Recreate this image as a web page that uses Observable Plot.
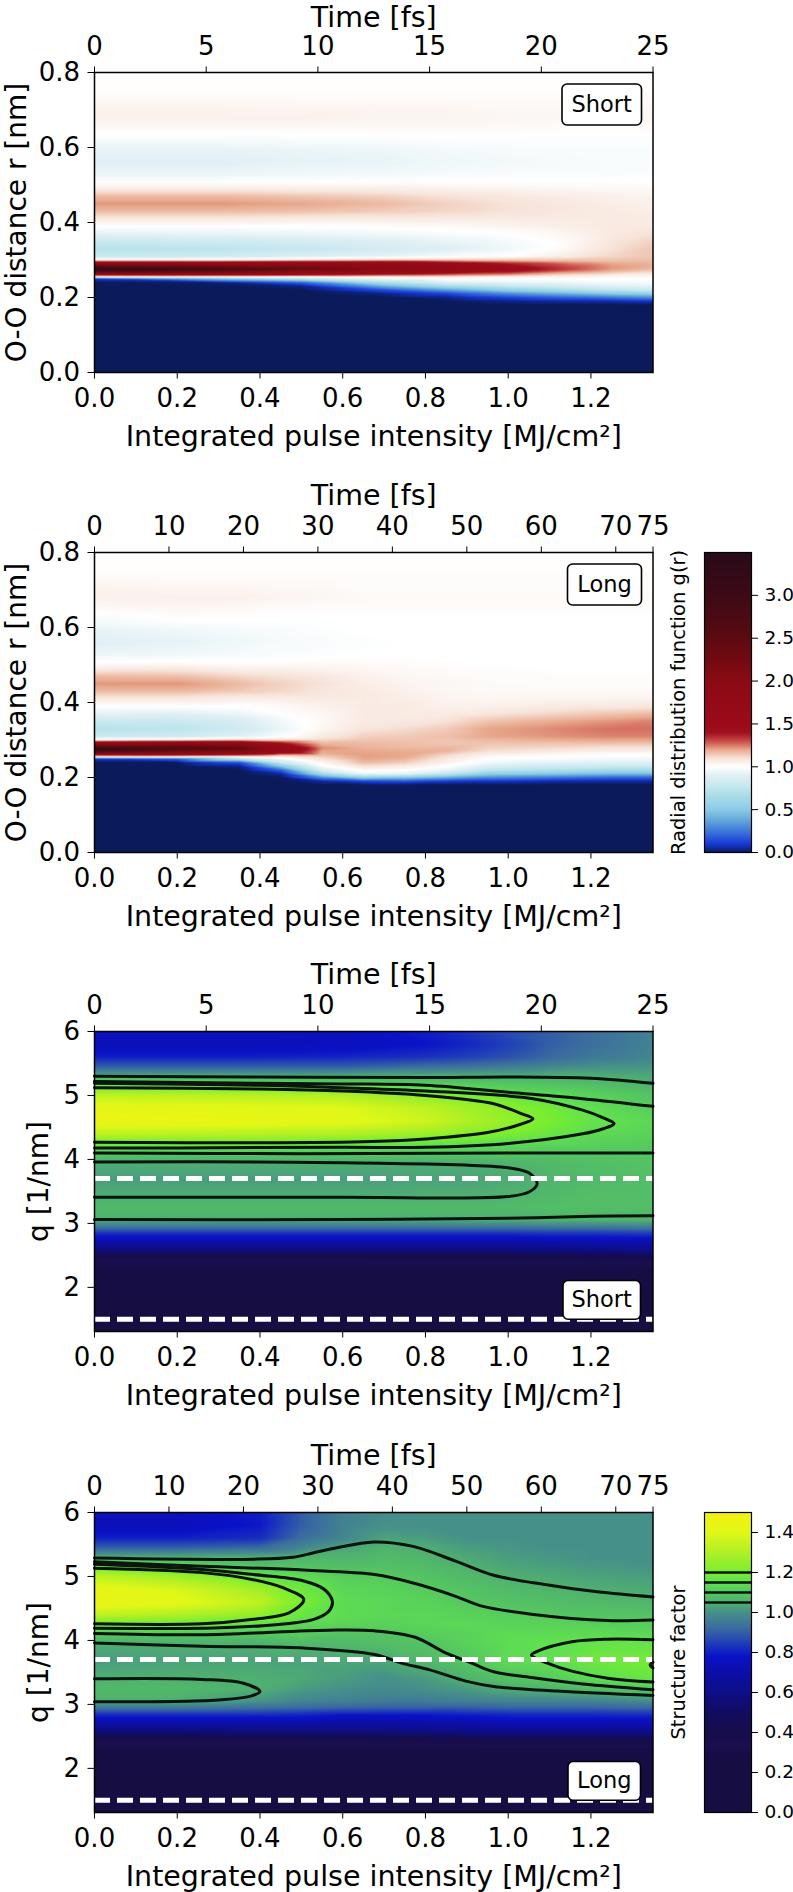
<!DOCTYPE html>
<html><head><meta charset="utf-8">
<style>html,body{margin:0;padding:0;background:#fff}#page{position:relative;width:793px;height:1892px;overflow:hidden}#page svg{position:absolute;overflow:hidden;background:transparent}</style>
<script src="https://cdn.jsdelivr.net/npm/d3@7"></script>
<script src="https://cdn.jsdelivr.net/npm/@observablehq/plot@0.6"></script>
</head><body><div id="page"></div>
<script>
// colour scales
const gStops=[0,.1,.25,.4,.5,.7,.75,.9,1,1.1,1.2,1.3,1.4,1.5,2,2.5,3,3.5];
const gColors=["#0a1a5a","#1838d8","#3d7ad8","#6aaedb","#8ccae8","#b0e0e8","#bfe6ee","#e0f0f5","#ffffff","#f7e3d8","#e8a88c","#c84a45","#a0101e","#9c0a18","#8a0a14","#5c0a10","#3c0a16","#2a0a1a"];
const sStops=[0,.28,.34,.4,.5,.6,.7,.78,.85,.92,1,1.05,1.1,1.15,1.2,1.3,1.4,1.5];
const sColors=["#160d40","#160d44","#1c0e50","#160d4a","#120c60","#0e0e88","#0c0ea8","#0a12c8","#2040b8","#3a6aa0","#46908a","#4fb070","#55c860","#60e050","#78ee30","#b0f025","#e0f818","#f5f010"];
// axes
const xTicks=[0,.2,.4,.6,.8,1,1.2];
const timeShort=[0,5,10,15,20,25];
const timeLong=[0,10,20,30,40,50,60,70,75];
const rTicks=[0,.2,.4,.6,.8];
const qTicks=[2,3,4,5,6];
const gTicks=[0,.5,1,1.5,2,2.5,3];
const sTicks=[0,.2,.4,.6,.8,1,1.2,1.4];
const sContourLevels=[1.05,1.1,1.15,1.2];
const dashedQ=[3.7,1.5];
// g(r) table: rows
const rRows=[0,.16,.18,.19,.2,.21,.22,.23,.24,.25,.255,.26,.27,.275,.28,.29,.295,.3,.31,.33,.35,.37,.39,.41,.43,.45,.47,.49,.51,.53,.56,.59,.62,.65,.68,.71,.74,.8];
const gShortX=[0,.3,.5,.7,.85,1,1.15,1.25,1.35];
const gShort=[
[0,0,0,0,0,0,0,0,0,.1,.95,1.45,2.7,3.3,2.8,1.9,1.4,1.05,.8,.72,.8,.92,1,1.08,1.17,1.22,1.17,1.07,.99,.94,.9,.92,.97,1.02,1.05,1.04,1.01,1],
[0,0,0,0,0,0,0,0,.02,.5,1,1.45,2.4,2.9,2.5,1.8,1.4,1.05,.82,.74,.82,.93,1,1.08,1.17,1.22,1.17,1.07,.99,.94,.9,.92,.97,1.02,1.05,1.04,1.01,1],
[0,0,0,0,0,0,0,.03,.2,.75,1,1.4,2,2.4,2.3,1.8,1.45,1.1,.88,.78,.85,.94,1,1.07,1.16,1.2,1.15,1.06,.99,.95,.92,.93,.98,1.02,1.05,1.03,1.01,1],
[0,0,0,0,0,.03,.15,.4,.7,.95,1.05,1.3,1.75,2,2,1.75,1.45,1.15,.92,.84,.89,.96,1.01,1.07,1.14,1.17,1.13,1.06,1,.96,.93,.94,.98,1.02,1.04,1.03,1.01,1],
[0,0,0,0,.03,.12,.35,.65,.9,1,1.08,1.25,1.6,1.8,1.8,1.55,1.35,1.15,.97,.89,.93,.98,1.02,1.07,1.12,1.13,1.1,1.05,1,.97,.95,.96,.99,1.02,1.04,1.03,1.01,1],
[0,0,0,.03,.12,.3,.55,.78,.93,1,1.05,1.2,1.42,1.47,1.47,1.38,1.26,1.15,1,.95,.97,1,1.04,1.07,1.1,1.1,1.08,1.04,1,.98,.96,.97,.99,1.02,1.03,1.02,1.01,1],
[0,0,0,.05,.2,.42,.68,.85,.95,1,1.05,1.1,1.25,1.31,1.31,1.26,1.2,1.15,1.07,1.03,1.02,1.04,1.06,1.07,1.08,1.08,1.06,1.03,1,.98,.97,.98,.99,1.01,1.03,1.02,1.01,1],
[0,0,0,.06,.25,.5,.75,.9,.97,1,1.03,1.07,1.18,1.21,1.22,1.2,1.17,1.15,1.12,1.1,1.09,1.08,1.08,1.07,1.07,1.06,1.05,1.02,1,.98,.98,.98,.99,1.01,1.03,1.02,1.01,1],
[0,0,0,.08,.3,.55,.8,.92,.97,1,1.02,1.05,1.13,1.16,1.18,1.18,1.17,1.16,1.15,1.15,1.13,1.1,1.08,1.07,1.06,1.05,1.04,1.02,1,.99,.98,.98,.99,1.01,1.03,1.02,1.01,1]
];
const gLongX=[0,.2,.35,.45,.55,.65,.75,.85,.95,1.1,1.25,1.35];
const gLong=[
[0,0,0,0,0,0,0,0,0,.1,.95,1.45,2.7,3.3,2.8,1.9,1.4,1.05,.8,.72,.8,.92,1,1.08,1.17,1.22,1.17,1.07,.99,.94,.9,.92,.97,1.02,1.05,1.04,1.01,1],
[0,0,0,0,0,0,0,0,0,.2,1,1.45,2.3,2.6,2.6,1.95,1.5,1.08,.82,.74,.8,.9,1,1.08,1.17,1.22,1.16,1.08,1,.95,.92,.95,1,1.03,1.05,1.03,1.01,1],
[0,0,0,0,0,0,0,.03,.15,.75,1,1.35,2.1,2.4,2.4,1.85,1.5,1.15,.9,.82,.86,.94,1,1.06,1.14,1.17,1.12,1.05,1,.97,.95,.97,1,1.02,1.05,1.03,1.01,1],
[0,0,0,0,0,.05,.2,.5,.8,.97,1.05,1.2,1.6,1.7,1.7,1.45,1.3,1.12,.98,.93,.96,1,1.02,1.06,1.12,1.13,1.1,1.05,1,.98,.97,.98,1,1.01,1.04,1.02,1.01,1],
[0,0,0,.05,.3,.65,.88,.98,1.03,1.1,1.13,1.17,1.2,1.22,1.23,1.18,1.15,1.12,1.07,1.03,1.02,1.03,1.05,1.07,1.09,1.1,1.08,1.04,1.01,.99,.98,.99,1,1.01,1.03,1.02,1.01,1],
[0,0,0,.12,.55,.95,1.02,1.1,1.17,1.2,1.21,1.21,1.2,1.19,1.18,1.17,1.16,1.15,1.13,1.09,1.07,1.07,1.07,1.07,1.07,1.06,1.05,1.03,1.01,1,.99,1,1,1.01,1.02,1.01,1.01,1],
[0,0,0,.15,.5,.92,1,1.07,1.14,1.18,1.2,1.2,1.19,1.18,1.17,1.16,1.16,1.15,1.14,1.11,1.08,1.07,1.07,1.06,1.05,1.04,1.03,1.02,1.01,1,1,1,1,1.01,1.02,1.01,1.01,1],
[0,0,0,.1,.4,.78,.93,1,1.05,1.08,1.1,1.12,1.18,1.18,1.17,1.15,1.15,1.15,1.16,1.14,1.1,1.07,1.05,1.04,1.03,1.03,1.02,1.01,1,1,1,1,1,1.01,1.02,1.01,1.01,1],
[0,0,0,.08,.3,.55,.75,.88,.96,1,1.02,1.05,1.1,1.12,1.13,1.15,1.16,1.17,1.2,1.2,1.15,1.09,1.05,1.03,1.02,1.02,1.01,1.01,1,1,1,1,1,1.01,1.02,1.01,1.01,1],
[0,0,0,.06,.25,.5,.7,.82,.92,.98,1,1.02,1.08,1.1,1.12,1.15,1.17,1.19,1.22,1.23,1.19,1.12,1.07,1.04,1.02,1.01,1.01,1,1,1,1,1,1,1.01,1.02,1.01,1.01,1],
[0,0,0,.05,.2,.45,.65,.8,.9,.96,.98,1,1.05,1.08,1.1,1.15,1.18,1.2,1.24,1.26,1.22,1.15,1.08,1.04,1.02,1.01,1.01,1,1,1,1,1,1,1.01,1.02,1.01,1.01,1],
[0,0,0,.05,.2,.45,.65,.8,.9,.96,.98,1,1.05,1.08,1.1,1.15,1.18,1.2,1.24,1.26,1.24,1.17,1.09,1.04,1.02,1.01,1.01,1,1,1,1,1,1,1.01,1.02,1.01,1.01,1]
];
// S(q) table
const qRows=[6,5.8,5.6,5.45,5.3,5.2,5.1,5,4.8,4.6,4.4,4.28,4.18,4.1,3.96,3.7,3.41,3.25,3.06,2.95,2.85,2.75,2.65,2.55,2.45,2.3,2,1.31];
const sShortX=[0,.3,.6,.8,.9,1,1.1,1.2,1.35];
const sShort=[
[.76,.74,.8,.9,1.05,1.14,1.23,1.33,1.43,1.45,1.33,1.21,1.15,1.1,1.05,1.02,1.05,1.07,1.05,.95,.83,.74,.64,.53,.36,.3,.25,.2],
[.76,.74,.8,.9,1.05,1.13,1.22,1.32,1.42,1.44,1.32,1.21,1.15,1.1,1.05,1.02,1.05,1.07,1.05,.95,.83,.74,.64,.53,.36,.3,.25,.2],
[.76,.75,.81,.9,1.05,1.12,1.2,1.3,1.4,1.42,1.3,1.2,1.14,1.1,1.05,1.02,1.05,1.07,1.05,.95,.83,.74,.64,.53,.36,.3,.25,.2],
[.8,.78,.83,.93,1.05,1.1,1.16,1.23,1.33,1.36,1.26,1.18,1.13,1.1,1.05,1.03,1.05,1.07,1.05,.95,.83,.74,.64,.53,.37,.3,.25,.2],
[.83,.81,.85,.94,1.05,1.1,1.15,1.2,1.28,1.3,1.23,1.17,1.13,1.1,1.05,1.03,1.05,1.07,1.05,.95,.83,.74,.64,.53,.37,.3,.25,.2],
[.87,.85,.88,.96,1.05,1.09,1.12,1.17,1.23,1.25,1.2,1.15,1.12,1.1,1.06,1.04,1.06,1.07,1.05,.95,.83,.74,.64,.53,.37,.3,.25,.2],
[.9,.9,.92,.98,1.05,1.08,1.11,1.14,1.19,1.2,1.17,1.14,1.11,1.1,1.07,1.06,1.07,1.08,1.06,.96,.84,.75,.65,.54,.38,.3,.25,.2],
[.93,.93,.95,1,1.05,1.07,1.1,1.12,1.15,1.16,1.14,1.12,1.11,1.1,1.08,1.07,1.08,1.08,1.06,.96,.84,.75,.66,.55,.39,.3,.25,.2],
[.97,.97,.98,1.01,1.04,1.05,1.07,1.09,1.11,1.13,1.12,1.11,1.1,1.1,1.09,1.08,1.08,1.08,1.06,.97,.85,.76,.67,.56,.4,.3,.26,.2]
];
const sLongX=[0,.2,.4,.5,.6,.7,.8,.9,1,1.1,1.2,1.35];
const sLong=[
[.76,.74,.8,.9,1.05,1.14,1.23,1.33,1.43,1.45,1.33,1.21,1.15,1.1,1.05,1.02,1.05,1.07,1.05,.95,.83,.74,.64,.53,.36,.3,.25,.2],
[.76,.74,.8,.9,1.05,1.11,1.18,1.27,1.38,1.42,1.3,1.2,1.15,1.1,1.05,1.03,1.05,1.07,1.05,.95,.83,.74,.64,.53,.36,.3,.25,.2],
[.8,.79,.82,.92,1.05,1.07,1.11,1.17,1.27,1.33,1.24,1.17,1.13,1.1,1.055,1.03,1.05,1.05,1.01,.93,.83,.74,.64,.54,.37,.3,.25,.2],
[.9,.9,.93,.98,1.06,1.08,1.1,1.14,1.18,1.2,1.17,1.14,1.12,1.11,1.07,1.03,1.04,1.02,.98,.92,.82,.74,.64,.54,.38,.3,.25,.2],
[.97,.97,.98,1.03,1.06,1.07,1.09,1.11,1.13,1.14,1.14,1.13,1.11,1.09,1.07,1.04,1.02,1,.97,.91,.8,.72,.64,.54,.38,.3,.25,.2],
[.99,1,1.03,1.06,1.07,1.08,1.09,1.105,1.12,1.13,1.13,1.12,1.11,1.09,1.08,1.04,1,.99,.96,.9,.8,.72,.64,.54,.39,.3,.25,.2],
[1,1,1.02,1.045,1.06,1.07,1.08,1.09,1.105,1.12,1.13,1.13,1.12,1.11,1.09,1.07,1.02,1,.96,.9,.8,.73,.65,.55,.4,.3,.25,.2],
[1,1,1,1.02,1.04,1.048,1.06,1.07,1.09,1.1,1.12,1.13,1.13,1.12,1.12,1.1,1.06,1.02,.97,.9,.81,.74,.67,.57,.42,.3,.25,.2],
[1,1,1,1.01,1.02,1.03,1.04,1.05,1.07,1.09,1.11,1.12,1.13,1.14,1.14,1.14,1.09,1.05,.98,.91,.82,.76,.69,.58,.43,.3,.25,.2],
[1,1,1,1,1.01,1.02,1.03,1.04,1.06,1.08,1.1,1.12,1.13,1.14,1.15,1.15,1.11,1.06,.98,.91,.82,.76,.69,.58,.43,.3,.25,.2],
[1,1,1,1,1,1.01,1.02,1.03,1.05,1.07,1.09,1.11,1.13,1.14,1.16,1.18,1.14,1.08,.98,.91,.82,.76,.69,.58,.43,.3,.25,.2],
[1,1,1,1,1,1,1.01,1.02,1.04,1.06,1.09,1.11,1.12,1.13,1.16,1.19,1.17,1.11,1,.92,.83,.76,.69,.58,.43,.3,.25,.2]
];
// contour lines read from the short-pulse S(q) map: [intensity, q]
const cs1=[[0,5.3],[.4,5.29],[.8,5.28],[1,5.29],[1.2,5.27],[1.35,5.19]];
const cs2=[[0,3.06],[.6,3.06],[.8,3.07],[1,3.08],[1.2,3.11],[1.35,3.12]];
const cs3=[[0,5.22],[.4,5.19],[.6,5.18],[.8,5.16],[1,5.05],[1.18,4.95],[1.35,4.83]];
const cs4=[[0,4.1],[.5,4.09],[1,4.1],[1.35,4.1]];
const cs5=[[0,3.96],[.6,3.95],[1,3.87],[1.05,3.79],[1.07,3.62],[1.05,3.49],[1,3.42],[.6,3.41],[0,3.41]];
const cs6=[[0,5.19],[.4,5.16],[.6,5.12],[.8,5.07],[1.06,4.95],[1.18,4.77],[1.23,4.65],[1.256,4.56],[1.23,4.48],[1.18,4.4],[1,4.25],[.8,4.19],[.6,4.19],[.2,4.18],[0,4.18]];
const cs7=[[0,5.12],[.4,5.1],[.6,5.07],[.8,5],[.965,4.87],[1.03,4.72],[1.06,4.635],[1.03,4.55],[.95,4.42],[.8,4.32],[.67,4.28],[.4,4.26],[0,4.27]];
// contour lines read from the long-pulse S(q) map
const cl1=[[0,5.29],[.384,5.27],[.48,5.3],[.53,5.37],[.58,5.44],[.675,5.54],[.77,5.47],[.873,5.24],[.965,5.02],[1.093,4.87],[1.215,4.76],[1.35,4.68]];
const cl2=[[0,5.23],[.26,5.16],[.506,5.1],[.677,5.03],[.775,4.89],[.873,4.69],[.934,4.54],[1.056,4.41],[1.24,4.31],[1.35,4.32]];
const cl3=[[0,5.19],[.26,5.11],[.384,5.03],[.506,4.93],[.555,4.8],[.575,4.61],[.567,4.46],[.53,4.33],[.384,4.22],[.26,4.19],[0,4.19]];
const cl4=[[0,5.13],[.26,5.06],[.384,4.95],[.457,4.82],[.506,4.64],[.47,4.43],[.384,4.33],[.26,4.26],[0,4.26]];
const cl5=[[0,3.96],[.26,3.91],[.506,3.88],[.677,3.78],[.74,3.65],[.81,3.54],[.9,3.36],[.965,3.28],[1.118,3.21],[1.35,3.14]];
const cl6=[[0,4.11],[.26,4.09],[.567,4.16],[.677,4.15],[.775,4.05],[.85,3.8],[.91,3.65],[.965,3.51],[1.056,3.42],[1.18,3.32],[1.35,3.23]];
const cl7=[[1.35,4.01],[1.24,4.02],[1.154,3.98],[1.07,3.83],[1.056,3.77],[1.093,3.65],[1.154,3.52],[1.24,3.41],[1.35,3.35]];
const cl8=[[1.35,3.66],[1.343,3.62],[1.35,3.57]];
const cl9=[[0,3.4],[.26,3.39],[.36,3.33],[.4,3.2],[.378,3.13],[.3,3.07],[0,3.04]];

const page=document.getElementById("page");
const FONT="'DejaVu Sans'";
const XMAX=1.35, W=793, ML=94, MR=140.5, MT=72, PH=300;
function samples(xs,rows,cols){const out=[];xs.forEach((x,i)=>rows.forEach((y,j)=>out.push({x,y,v:cols[i][j]})));return out;}
function place(svg,top,left=0){svg.style.top=top+"px";svg.style.left=left+"px";page.appendChild(svg);}
const rgb={interpolate:"rgb",type:"linear",clamp:true};

function panel(o){
  const isLong=o.tag==="Long";
  const times=isLong?timeLong:timeShort, tMax=isLong?75:25;
  const marks=[
    Plot.raster(samples(o.xs,o.rows,o.cols),{x:"x",y:"y",fill:"v",interpolate:"barycentric"})
  ];
  if(o.lines){
    marks.push(Plot.line(o.lines.flatMap((l,i)=>l.map(p=>({x:p[0],y:p[1],id:i}))),{x:"x",y:"y",z:"id",stroke:"#0b140f",strokeWidth:3,curve:"catmull-rom"}));
    marks.push(Plot.ruleY(dashedQ,{stroke:"white",strokeWidth:5,strokeDasharray:"16,7"}));
  }
  marks.push(
    Plot.frame({stroke:"black",strokeWidth:1.5}),
    Plot.frame({insetLeft:o.box[0],insetRight:o.box[1],insetTop:o.box[2],insetBottom:o.box[3],rx:5,ry:5,fill:"white",stroke:"black",strokeWidth:1.6}),
    Plot.text([o.tag],{frameAnchor:"top-left",dx:o.box[0]+(558.5-o.box[0]-o.box[1])/2,dy:o.box[2]+(PH-o.box[2]-o.box[3])/2,textAnchor:"middle",lineAnchor:"middle",fontSize:22.5,fill:"black"}),
    Plot.axisX({anchor:"bottom",ticks:xTicks,tickFormat:d3.format(".1f"),tickSize:6.5,tickPadding:9.5,fontSize:26,label:null}),
    Plot.axisX({anchor:"top",ticks:times.map(t=>t*XMAX/tMax),tickFormat:x=>String(Math.round(x*tMax/XMAX)),tickSize:6.5,tickPadding:11.5,fontSize:26,label:null}),
    Plot.axisY({anchor:"left",ticks:o.yTicks,tickFormat:o.yFormat,tickSize:6.5,tickPadding:8,fontSize:26,label:null}),
    Plot.text(["Time [fs]"],{frameAnchor:"top",lineAnchor:"bottom",dy:o.timeDy||-48,fontSize:28.5,fill:"black"}),
    Plot.text(["Integrated pulse intensity [MJ/cm²]"],{frameAnchor:"bottom",lineAnchor:"bottom",dy:73.5,fontSize:28.5,fill:"black"}),
    Plot.text([o.yLabel],{frameAnchor:"left",textAnchor:"middle",lineAnchor:"bottom",rotate:-90,dx:o.yLabelX-ML,fontSize:o.yLabelSize,fill:"black"})
  );
  const svg=Plot.plot({width:W,height:MT+PH+85,marginLeft:ML,marginRight:MR,marginTop:MT,marginBottom:85,
    style:{fontFamily:FONT,color:"black",background:"transparent"},
    x:{domain:[0,XMAX],axis:null},y:{domain:o.domain,axis:null},
    color:{...rgb,domain:o.stops,range:o.colors},marks});
  place(svg,o.top-MT);
}
function colorbar(o){
  const marks=[
    Plot.raster({fill:(x,y)=>y,x1:0,x2:1,y1:o.domain[0],y2:o.domain[1]}),
    ...(o.rules?[Plot.ruleY(o.rules,{stroke:"#0b140f",strokeWidth:2.4})]:[]),
    Plot.frame({stroke:"black",strokeWidth:1.2}),
    Plot.axisY({anchor:"right",ticks:o.ticks,tickFormat:d3.format(".1f"),tickSize:6,tickPadding:7,fontSize:18.5,label:null}),
    Plot.text([o.label],{frameAnchor:"left",textAnchor:"middle",lineAnchor:"bottom",rotate:-90,dx:-20,dy:o.labelDy||0,fontSize:o.labelSize,fill:"black"})
  ];
  const svg=Plot.plot({width:133,height:340,marginLeft:44,marginRight:42,marginTop:20,marginBottom:20,
    style:{fontFamily:FONT,color:"black",background:"transparent"},
    x:{domain:[0,1],axis:null},y:{domain:o.domain,axis:null},
    color:{...rgb,domain:o.stops,range:o.colors},marks});
  place(svg,o.top-20,660);
}
const f1=d3.format(".1f"), f0=d3.format("d");
panel({top:71.5,tag:"Short",timeDy:-45.5,xs:gShortX,rows:rRows,cols:gShort,stops:gStops,colors:gColors,domain:[0,.8],yTicks:rTicks,yFormat:f1,yLabel:"O-O distance r [nm]",yLabelX:25,yLabelSize:28,box:[467.5,11.5,11.5,247.5]});
panel({top:551.5,tag:"Long",xs:gLongX,rows:rRows,cols:gLong,stops:gStops,colors:gColors,domain:[0,.8],yTicks:rTicks,yFormat:f1,yLabel:"O-O distance r [nm]",yLabelX:25,yLabelSize:28,box:[473,11.5,11.5,247.5]});
panel({top:1031,tag:"Short",xs:sShortX,rows:qRows,cols:sShort,stops:sStops,colors:sColors,domain:[1.31,6],yTicks:qTicks,yFormat:f0,yLabel:"q [1/nm]",yLabelX:47,yLabelSize:28,box:[468.5,12.5,249,12.3],lines:[cs1,cs2,cs3,cs4,cs5,cs6,cs7]});
panel({top:1511.5,tag:"Long",xs:sLongX,rows:qRows,cols:sLong,stops:sStops,colors:sColors,domain:[1.31,6],yTicks:qTicks,yFormat:f0,yLabel:"q [1/nm]",yLabelX:47,yLabelSize:28,box:[473.5,12.5,249,12.3],lines:[cl1,cl2,cl3,cl4,cl5,cl6,cl7,cl8,cl9]});
colorbar({top:551.5,domain:[0,3.5],ticks:gTicks,stops:gStops,colors:gColors,label:"Radial distribution function g(r)",labelSize:19.5});
colorbar({top:1511.5,domain:[0,1.5],ticks:sTicks,stops:sStops,colors:sColors,rules:sContourLevels,label:"Structure factor",labelSize:19.5});
</script></body></html>
